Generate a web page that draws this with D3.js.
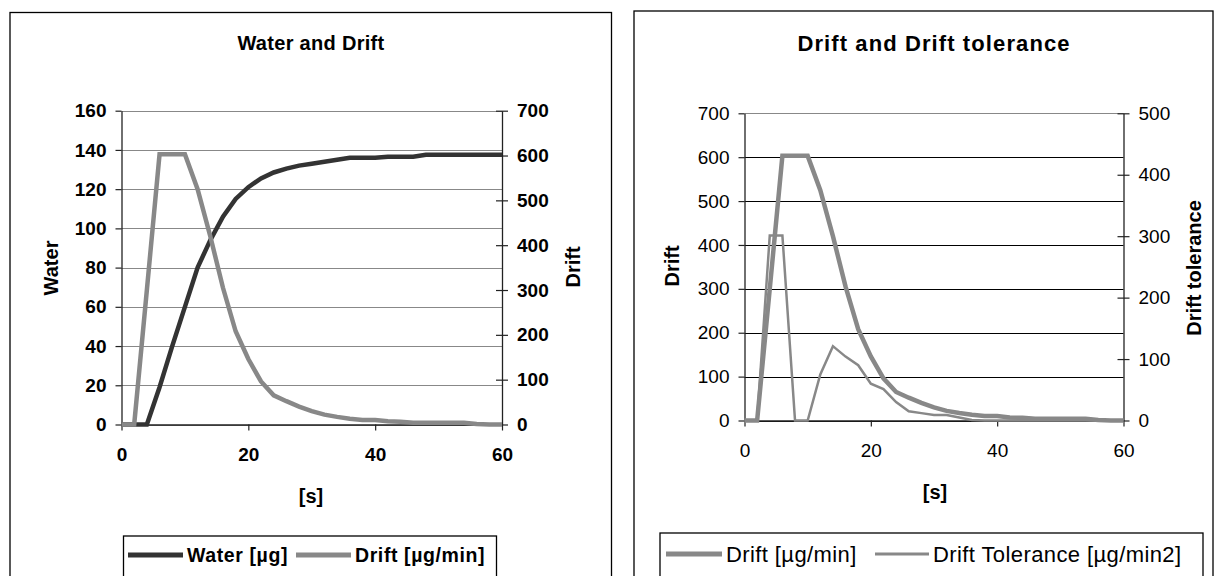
<!DOCTYPE html>
<html>
<head>
<meta charset="utf-8">
<script src="https://cdn.jsdelivr.net/npm/d3@7"></script>
<style>
  body { margin: 0; background: #fff; }
  svg text { font-family: "Liberation Sans", Arial, sans-serif; fill: #000; }
</style>
</head>
<body>
<svg id="chart" width="1221" height="576"></svg>
<script>
// Time in seconds
const seconds = [0, 2, 4, 6, 8, 10, 12, 14, 16, 18, 20, 22, 24, 26, 28, 30, 32, 34, 36, 38, 40, 42, 44, 46, 48, 50, 52, 54, 56, 58, 60];
// Water [µg]
const water = [0, 0, 0, 19, 40, 60, 80, 94, 106, 115, 121, 125.5, 128.5, 130.5, 132, 133, 134, 135, 136, 136, 136, 136.5, 136.5, 136.5, 137.5, 137.5, 137.5, 137.5, 137.5, 137.5, 137.5];
// Drift [µg/min]
const drift = [0, 0, 300, 603, 603, 603, 525, 420, 305, 208, 146, 96, 65, 52, 40, 30, 22, 17, 13, 10, 10, 7, 6, 4, 4, 4, 4, 4, 1, 0, 0];
// Drift Tolerance [µg/min2]
const driftTolerance = [0, 0, 301, 301, 0, 0, 75, 121, 104, 90, 60, 51, 30, 15, 12, 9, 9, 5, 1, 0, 0, 0, 0, 0, 0, 0, 0, 0, 0, 0, 0];

const xTicks = [0, 20, 40, 60];
const waterTicks = [0, 20, 40, 60, 80, 100, 120, 140, 160];
const driftTicks = [0, 100, 200, 300, 400, 500, 600, 700];
const toleranceTicks = [0, 100, 200, 300, 400, 500];

const svg = d3.select('#chart');

/** Draws one chart panel with two y axes */
function drawPanel(cfg) {
  const g = svg.append('g');

  // Panel frame
  g.append('rect')
    .attr('x', cfg.frame[0]).attr('y', cfg.frame[1])
    .attr('width', cfg.frame[2]).attr('height', cfg.frame[3])
    .attr('fill', '#fff').attr('stroke', '#000').attr('stroke-width', 1.3);

  const x = d3.scaleLinear([0, 60], [cfg.plot.left, cfg.plot.right]);
  const yL = d3.scaleLinear(cfg.leftDomain, [cfg.plot.bottom, cfg.plot.top]);
  const yR = d3.scaleLinear(cfg.rightDomain, [cfg.plot.bottom, cfg.plot.top]);

  // Horizontal gridlines
  g.selectAll('.grid')
    .data(cfg.leftTicks)
    .join('line')
    .attr('x1', cfg.plot.left).attr('x2', cfg.plot.right)
    .attr('y1', d => Math.round(yL(d)) + 0.5).attr('y2', d => Math.round(yL(d)) + 0.5)
    .attr('stroke', (d, i) => i === cfg.leftTicks.length - 1 ? '#888' : cfg.gridColor)
    .attr('stroke-width', 1.2);

  const bold = cfg.boldTicks ? 'bold' : 'normal';

  // Left axis
  g.append('g')
    .attr('transform', `translate(${cfg.plot.left},0)`)
    .call(d3.axisLeft(yL).tickValues(cfg.leftTicks).tickSize(6).tickSizeOuter(0).tickPadding(9))
    .call(a => a.select('.domain').attr('stroke', '#222').attr('stroke-width', 1.3))
    .call(a => a.selectAll('.tick line').attr('stroke', '#222').attr('stroke-width', 1.2))
    .call(a => a.selectAll('.tick text')
      .style('font-size', '19px').style('font-weight', bold).attr('fill', '#000')
      .style('font-family', '"Liberation Sans", Arial, sans-serif'));

  // Right axis, ticks crossing the line
  g.append('g')
    .attr('transform', `translate(${cfg.plot.right},0)`)
    .call(d3.axisRight(yR).tickValues(cfg.rightTicks).tickSize(6).tickSizeOuter(0).tickPadding(9))
    .call(a => a.select('.domain').attr('stroke', '#222').attr('stroke-width', 1.3))
    .call(a => a.selectAll('.tick line').attr('x1', -6).attr('stroke', '#222').attr('stroke-width', 1.2))
    .call(a => a.selectAll('.tick text')
      .style('font-size', '19px').style('font-weight', bold).attr('fill', '#000')
      .style('font-family', '"Liberation Sans", Arial, sans-serif'));

  // Bottom axis
  g.append('g')
    .attr('transform', `translate(0,${cfg.plot.bottom})`)
    .call(d3.axisBottom(x).tickValues(xTicks).tickSize(6).tickSizeOuter(0).tickPadding(17))
    .call(a => a.select('.domain').attr('stroke', '#222').attr('stroke-width', 1.3))
    .call(a => a.selectAll('.tick line').attr('stroke', '#222').attr('stroke-width', 1.2))
    .call(a => a.selectAll('.tick text')
      .style('font-size', '19px').style('font-weight', bold).attr('fill', '#000')
      .style('font-family', '"Liberation Sans", Arial, sans-serif'));

  // Series lines
  cfg.series.forEach(s => {
    const y = s.axis === 'left' ? yL : yR;
    const line = d3.line()
      .x((d, i) => x(seconds[i]))
      .y(d => y(d));
    g.append('path')
      .datum(s.values)
      .attr('d', line)
      .attr('fill', 'none')
      .attr('stroke', s.color)
      .attr('stroke-width', s.width)
      .attr('stroke-linejoin', 'miter');
  });

  // Title
  g.append('text')
    .attr('x', cfg.titlePos[0]).attr('y', cfg.titlePos[1])
    .attr('text-anchor', 'middle').attr('dominant-baseline', 'central')
    .style('font-size', cfg.titleSize + 'px').style('font-weight', 'bold')
    .style('letter-spacing', cfg.titleSpacing + 'px')
    .text(cfg.title);

  // Axis titles
  g.append('text')
    .attr('transform', `translate(${cfg.leftTitlePos[0]},${cfg.leftTitlePos[1]}) rotate(-90)`)
    .attr('text-anchor', 'middle').attr('dominant-baseline', 'central')
    .style('font-size', '20px').style('font-weight', 'bold')
    .text(cfg.leftTitle);

  g.append('text')
    .attr('transform', `translate(${cfg.rightTitlePos[0]},${cfg.rightTitlePos[1]}) rotate(-90)`)
    .attr('text-anchor', 'middle').attr('dominant-baseline', 'central')
    .style('font-size', '20px').style('font-weight', 'bold')
    .text(cfg.rightTitle);

  g.append('text')
    .attr('x', cfg.xTitlePos[0]).attr('y', cfg.xTitlePos[1])
    .attr('text-anchor', 'middle').attr('dominant-baseline', 'central')
    .style('font-size', '20px').style('font-weight', 'bold')
    .text('[s]');

  // Legend
  const lg = cfg.legend;
  g.append('rect')
    .attr('x', lg.box[0]).attr('y', lg.box[1])
    .attr('width', lg.box[2]).attr('height', lg.box[3])
    .attr('fill', '#fff').attr('stroke', '#000').attr('stroke-width', 1.3);

  lg.items.forEach((it, i) => {
    const s = cfg.series[i];
    g.append('line')
      .attr('x1', it.x1).attr('x2', it.x2)
      .attr('y1', lg.cy).attr('y2', lg.cy)
      .attr('stroke', s.color).attr('stroke-width', s.width + 0.5);
    g.append('text')
      .attr('x', it.x2 + 4).attr('y', lg.cy)
      .attr('dominant-baseline', 'central')
      .style('font-size', lg.fontSize + 'px')
      .style('font-weight', lg.bold ? 'bold' : 'normal')
      .style('letter-spacing', lg.spacing + 'px')
      .text(s.name);
  });
}

// Left chart: Water and Drift
drawPanel({
  frame: [10, 12.5, 601.5, 600],
  plot: { left: 121.5, right: 502, top: 110.7, bottom: 424.5 },
  leftDomain: [0, 160], rightDomain: [0, 700],
  leftTicks: waterTicks, rightTicks: driftTicks,
  gridColor: '#888',
  boldTicks: true,
  title: 'Water and Drift', titlePos: [311, 43], titleSize: 20, titleSpacing: 0.3,
  leftTitle: 'Water', leftTitlePos: [50.5, 268],
  rightTitle: 'Drift', rightTitlePos: [573, 267],
  xTitlePos: [311, 496],
  series: [
    { name: 'Water [µg]', values: water, axis: 'left', color: '#333333', width: 4.5 },
    { name: 'Drift [µg/min]', values: drift, axis: 'right', color: '#888888', width: 4.5 }
  ],
  legend: {
    box: [123.5, 536, 373, 45], cy: 555, fontSize: 19.5, bold: true, spacing: 0.6,
    items: [{ x1: 128, x2: 183 }, { x1: 296, x2: 351 }]
  }
});

// Right chart: Drift and Drift tolerance
drawPanel({
  frame: [634, 11, 579, 600],
  plot: { left: 744.5, right: 1123.5, top: 113.3, bottom: 420.5 },
  leftDomain: [0, 700], rightDomain: [0, 500],
  leftTicks: driftTicks, rightTicks: toleranceTicks,
  gridColor: '#000',
  boldTicks: false,
  title: 'Drift and Drift tolerance', titlePos: [934, 43], titleSize: 22, titleSpacing: 1.1,
  leftTitle: 'Drift', leftTitlePos: [672, 266],
  rightTitle: 'Drift tolerance', rightTitlePos: [1194, 268],
  xTitlePos: [935, 492],
  series: [
    { name: 'Drift [µg/min]', values: drift, axis: 'left', color: '#888888', width: 4.5 },
    { name: 'Drift Tolerance [µg/min2]', values: driftTolerance, axis: 'right', color: '#888888', width: 2.5 }
  ],
  legend: {
    box: [660, 533, 543, 48], cy: 554, fontSize: 22, bold: false, spacing: 0.4,
    items: [{ x1: 666, x2: 722 }, { x1: 875, x2: 929 }]
  }
});
</script>
</body>
</html>
